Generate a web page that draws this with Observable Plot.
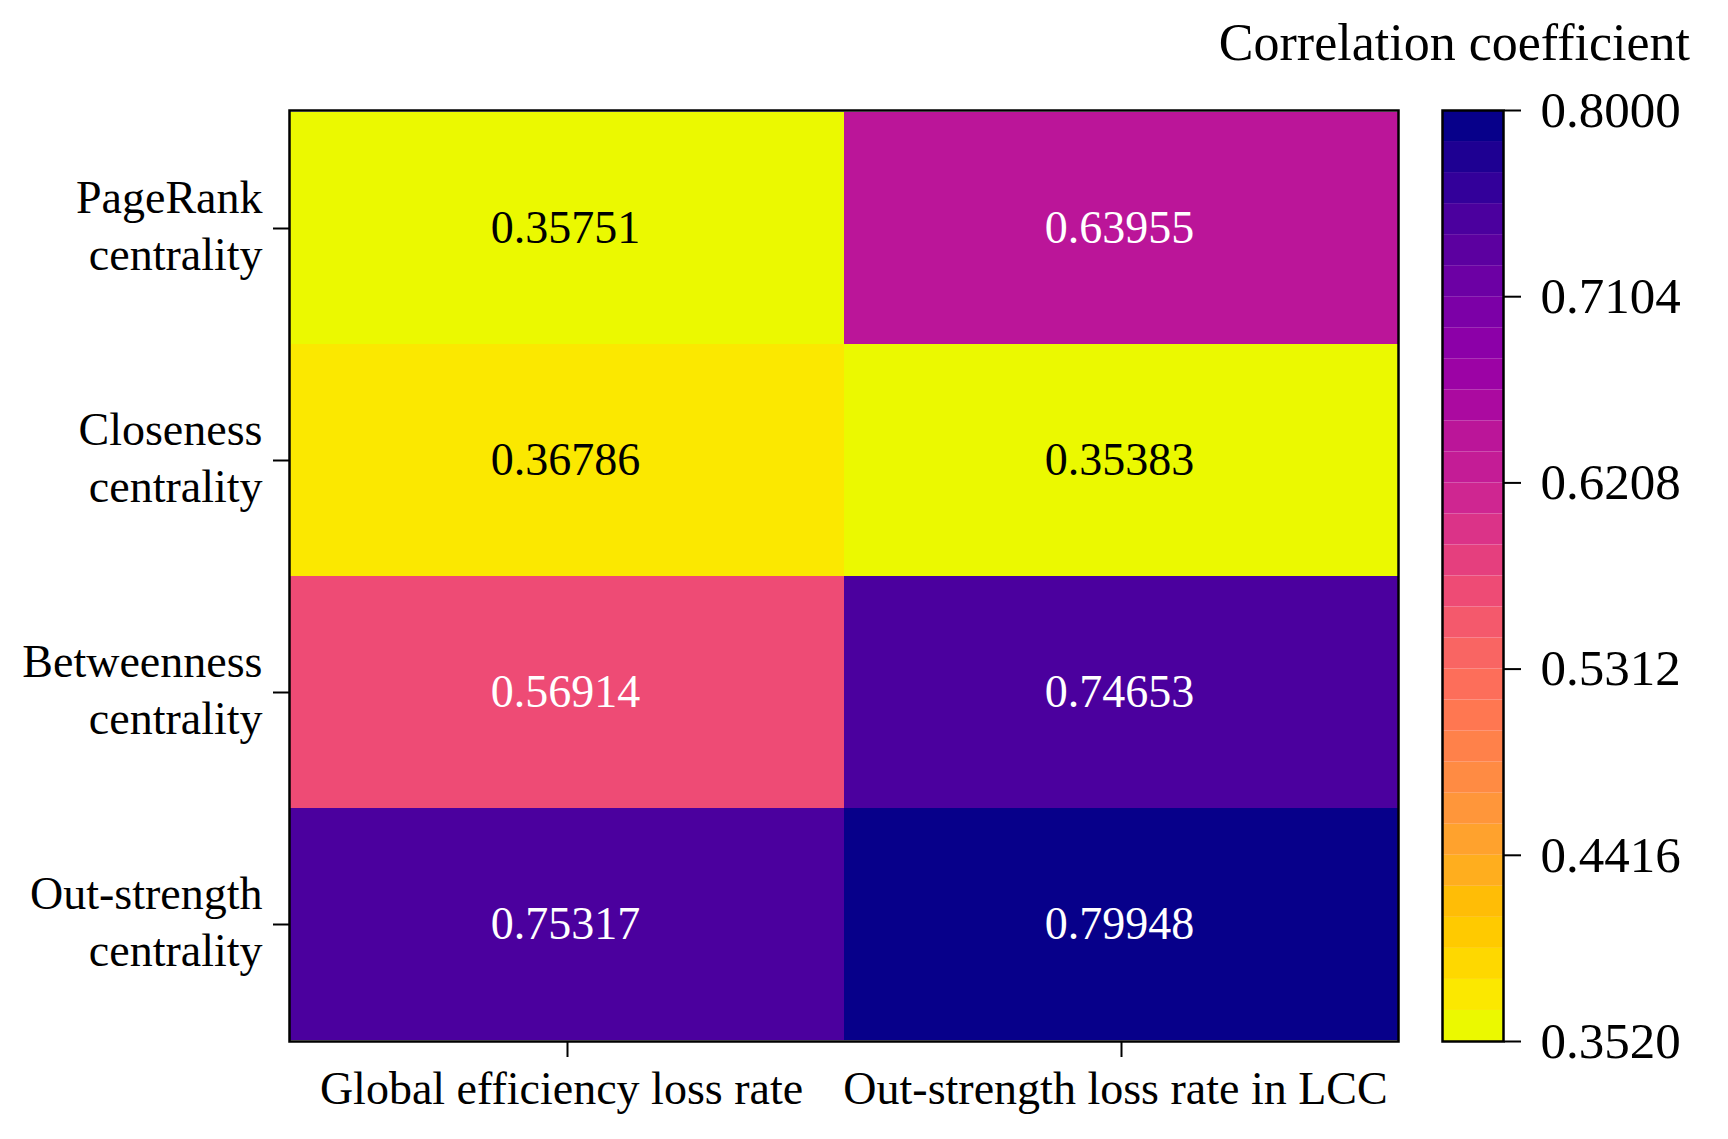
<!DOCTYPE html>
<html>
<head>
<meta charset="utf-8">
<script src="https://cdn.jsdelivr.net/npm/d3@7"></script>
<script src="https://cdn.jsdelivr.net/npm/@observablehq/plot@0.6"></script>
<style>
  body { margin: 0; background: #ffffff; }
  #fig { position: relative; width: 1728px; height: 1139px; font-family: "Liberation Serif", "Times New Roman", serif; color: #000; }
  #title { position: absolute; right: 38px; top: 17px; font-size: 52px; line-height: 52px; white-space: nowrap; }
</style>
</head>
<body>
<div id="fig"><div id="title">Correlation coefficient</div></div>
<script>
// ---- data ----
const centralities = ["PageRank centrality", "Closeness centrality", "Betweenness centrality", "Out-strength centrality"];
const metrics = ["Global efficiency loss rate", "Out-strength loss rate in LCC"];
const globalEfficiencyLoss = [0.35751, 0.36786, 0.56914, 0.75317];
const outStrengthLossLCC = [0.63955, 0.35383, 0.74653, 0.79948];
const colorbarTicks = [0.3520, 0.4416, 0.5312, 0.6208, 0.7104, 0.8000];

// ---- style: 30-level palette (low -> high) ----
const palette = [
  "#ebf900", "#fbe800", "#fed800", "#ffca00", "#ffbd06", "#ffae1e", "#ffa22d", "#ff963a", "#ff8b43", "#ff814a",
  "#ff7751", "#fd6e5a", "#f96563", "#f4596c", "#ee4b75", "#e53f7e", "#db3388", "#cf2691", "#c41c96", "#bb1599",
  "#ab0aa0", "#9c03a5", "#8c00a8", "#7c00a7", "#6c00a4", "#5c00a0", "#4b009e", "#33009a", "#1e0092", "#07008a"
];
const cMin = colorbarTicks[0], cMax = colorbarTicks[colorbarTicks.length - 1];
const nLevels = palette.length;
const edges = d3.range(nLevels + 1).map(i => cMin + i * (cMax - cMin) / nLevels);
const thresholds = edges.slice(1, -1);
const colorScale = {type: "threshold", domain: thresholds, range: palette};
const bins = d3.range(nLevels).map(i => ({lo: edges[i], hi: edges[i + 1], mid: (edges[i] + edges[i + 1]) / 2}));

const table = [];
centralities.forEach((c, i) => {
  table.push({centrality: c, metric: metrics[0], value: globalEfficiencyLoss[i]});
  table.push({centrality: c, metric: metrics[1], value: outStrengthLossLCC[i]});
});

const font = '"Liberation Serif", "Times New Roman", serif';
const fig = document.getElementById("fig");

// ---- heatmap ----
const heat = Plot.plot({
  width: 1420,
  height: 1139,
  marginLeft: 289,
  marginRight: 22,
  marginTop: 110,
  marginBottom: 98,
  style: {fontFamily: font, fontSize: "46px", background: "transparent", overflow: "visible"},
  x: {domain: metrics, padding: 0},
  y: {domain: centralities, padding: 0},
  color: colorScale,
  marks: [
    Plot.cell(table, {x: "metric", y: "centrality", fill: "value", inset: 0}),
    Plot.text(table.filter(d => d.value < 0.5), {x: "metric", y: "centrality", text: d => d.value.toFixed(5), fill: "black", fontSize: 46, dx: -2}),
    Plot.text(table.filter(d => d.value >= 0.5), {x: "metric", y: "centrality", text: d => d.value.toFixed(5), fill: "white", fontSize: 46, dx: -2}),
    Plot.frame({stroke: "black", strokeWidth: 2.5}),
    // tick lines
    Plot.axisY({tickSize: 16, strokeWidth: 2, tickFormat: () => "", label: null}),
    Plot.axisX({tickSize: 16, strokeWidth: 2, tickFormat: () => "", label: null}),
    // tick labels
    Plot.axisY({tickSize: 0, tickPadding: 27, fontSize: 46, lineHeight: 1.24, dy: -5, label: null,
                tickFormat: d => d.replace(" ", "\n")}),
    Plot.axisX({tickSize: 0, tickPadding: 30, fontSize: 46, dx: -6, label: null})
  ]
});
heat.style.position = "absolute";
heat.style.left = "0px";
heat.style.top = "0px";
fig.appendChild(heat);

// ---- colorbar ----
const bar = Plot.plot({
  width: 308,
  height: 1139,
  marginLeft: 22,
  marginRight: 225,
  marginTop: 110,
  marginBottom: 98,
  style: {fontFamily: font, fontSize: "51px", background: "transparent", overflow: "visible"},
  y: {domain: [cMin, cMax]},
  color: colorScale,
  marks: [
    Plot.rectY(bins, {y1: "lo", y2: "hi", fill: "mid"}),
    Plot.frame({stroke: "black", strokeWidth: 2.5}),
    Plot.axisY({anchor: "right", ticks: colorbarTicks, tickFormat: d3.format(".4f"), tickSize: 17, tickPadding: 20,
                strokeWidth: 2, fontSize: 51, label: null})
  ]
});
bar.style.position = "absolute";
bar.style.left = "1420px";
bar.style.top = "0px";
fig.appendChild(bar);
</script>
</body>
</html>
